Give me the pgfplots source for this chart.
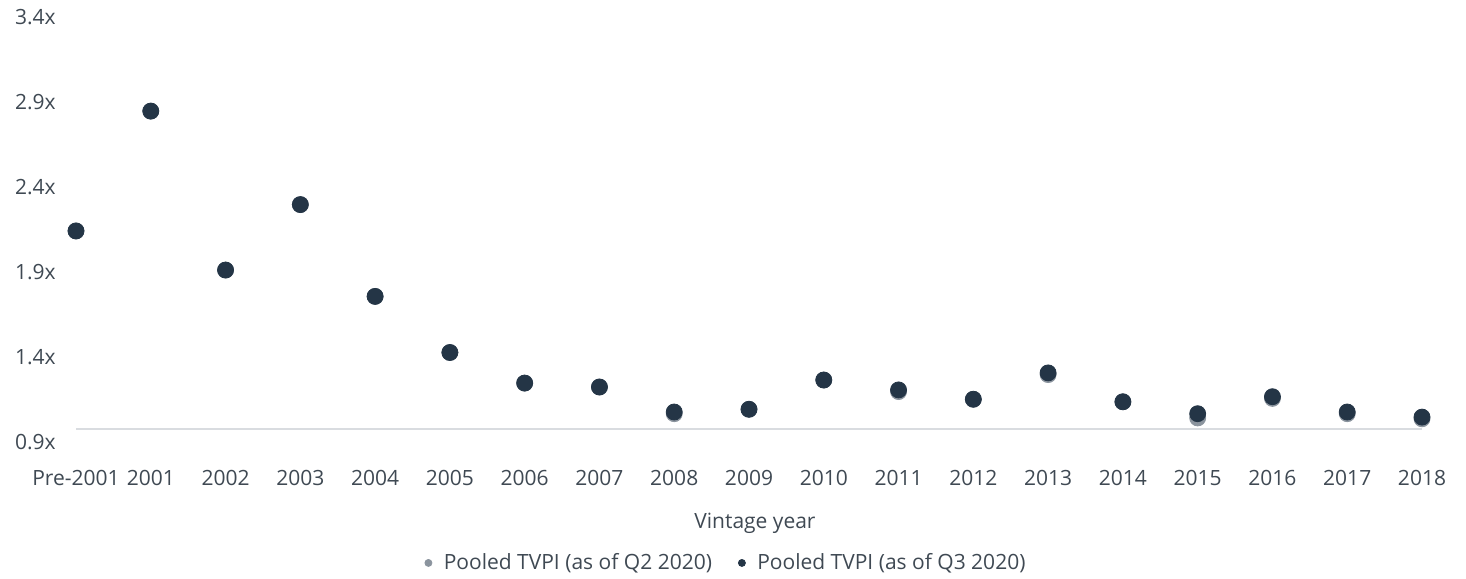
\documentclass[border=0pt]{standalone}
\usepackage{fontspec}
\setmainfont{Open Sans}
\usepackage{pgfplots}
\pgfplotsset{compat=1.18}
\definecolor{qthree}{HTML}{243546}
\definecolor{qtwo}{HTML}{8B949E}
\definecolor{txt}{HTML}{3F4953}
\definecolor{axl}{HTML}{D9DCE0}
\begin{document}
\begin{tikzpicture}
\begin{axis}[
  scale only axis, width=673pt, height=212.5pt,
  xmin=0, xmax=18, ymin=0.9, ymax=3.4,
  clip=false,
  axis x line*=bottom, axis y line*=left,
  x axis line style={draw=axl, line width=0.8pt, -},
  y axis line style={draw=none},
  major tick length=0pt,
  xtick={0,...,18},
  xticklabels={Pre-2001,2001,2002,2003,2004,2005,2006,2007,2008,2009,2010,2011,2012,2013,2014,2015,2016,2017,2018},
  ytick={0.9,1.4,1.9,2.4,2.9,3.4},
  yticklabels={0.9x,1.4x,1.9x,2.4x,2.9x,3.4x},
  tick label style={font=\fontsize{10.5}{12}\selectfont, text=txt},
  yticklabel style={anchor=west, xshift=-34pt, yshift=-6.5pt},
  xticklabel style={yshift=-17pt},
  xlabel={Vintage year},
  xlabel style={font=\fontsize{10.5}{12}\selectfont, text=txt, yshift=-7pt, xshift=3pt},
  legend style={at={(0.5,0)}, yshift=-58pt, xshift=-11pt, anchor=north, draw=none, fill=none,
    font=\fontsize{10.5}{12}\selectfont, text=txt, legend columns=2,
    /tikz/every even column/.append style={column sep=11pt}},
  legend cell align=left,
  legend image code/.code={\fill[#1] (0pt,0pt) circle (1.75pt); \path[draw=none,fill=none] (-1.75pt,-0.1pt) rectangle (5.7pt,0.1pt);},
]
\addplot[only marks, mark=*, mark size=4pt, color=qtwo] coordinates {
(0,2.065) (1,2.77) (2,1.835) (3,2.22) (4,1.68) (5,1.35) (6,1.17) (7,1.147)
(8,0.99) (9,1.016) (10,1.188) (11,1.12) (12,1.075) (13,1.22) (14,1.06)
(15,0.965) (16,1.08) (17,0.99) (18,0.96)};
\addlegendentry{Pooled TVPI (as of Q2 2020)}
\addplot[only marks, mark=*, mark size=4pt, color=qthree] coordinates {
(0,2.065) (1,2.77) (2,1.835) (3,2.22) (4,1.68) (5,1.35) (6,1.17) (7,1.147)
(8,1.00) (9,1.016) (10,1.188) (11,1.13) (12,1.075) (13,1.23) (14,1.06)
(15,0.99) (16,1.09) (17,1.00) (18,0.97)};
\addlegendentry{Pooled TVPI (as of Q3 2020)}
\coordinate (O) at (rel axis cs:0,0);
\end{axis}
\pgfresetboundingbox
\path (O) ++(-38pt,-74.5pt) rectangle ++(733pt,289pt);
\end{tikzpicture}
\end{document}
